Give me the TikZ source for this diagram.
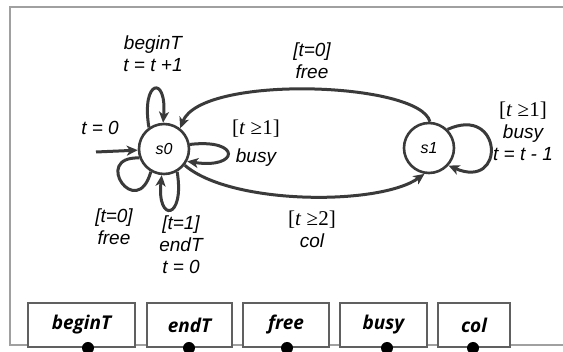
\documentclass[tikz,border=0pt]{standalone}
\usepackage{fontspec}
\setmainfont{Liberation Sans}
\newfontfamily\seriffont{Liberation Serif}
\newfontfamily\boxfont{Open Sans}
\usetikzlibrary{arrows.meta}
\definecolor{ink}{HTML}{3A3A3A}
\definecolor{framecol}{HTML}{A0A0A0}
\definecolor{boxline}{HTML}{606060}
\newcommand{\tgeq}[1]{{\seriffont\upshape\fontsize{21}{22}\selectfont[\textit{t} ≥#1]}}
\begin{document}
\begin{tikzpicture}[x=1pt,y=-1pt,
 state/.style={circle,draw=ink,line width=2.6pt,minimum size=50pt,inner sep=0pt,font=\fontsize{16}{16}\selectfont\itshape},
 arr/.style={draw=ink,line width=3pt,-{Stealth[length=11pt,width=10pt,inset=3pt]}},
 plain/.style={draw=ink,line width=3pt},
 lbl/.style={align=center,inner sep=0pt,font=\fontsize{19}{22}\selectfont\itshape,text=black},
 sigbox/.style={draw=boxline,line width=2.4pt,fill=white,minimum height=44pt,inner sep=0pt,font=\boxfont\fontsize{19}{19}\selectfont\bfseries\itshape},
 port/.style={circle,fill=black,minimum size=12pt,inner sep=0pt}
]
\useasboundingbox (0,0) rectangle (563,352);
\draw[framecol,line width=2.2pt] (575,7) -- (10,7) -- (10,345) -- (575,345);

\node[state] (s0) at (164,149) {s0};
\node[state] (s1) at (429,148) {s1};
\coordinate (init) at (96,152);

\draw[arr] (init) -- (s0);
\draw[arr] (s0.125) .. controls +(-8,-48) and +(4,-48) .. (s0.92);
\draw[plain] (s0.200) .. controls +(-48,-2) and +(-14,50) .. (s0.240);
\draw[arr] (s0.-60) .. controls +(8,48) and +(-5,48) .. (s0.-95);
\draw[arr] (s0.10) .. controls +(52,-6) and +(52,8) .. (s0.-28);
\draw[arr] (s1.88) .. controls +(-10,-40) and +(21,-54) .. (s0.52);
\draw[arr] (s0.-38) .. controls +(46,40) and +(-45,32) .. (s1.-100);
\draw[arr] (s1.45) .. controls +(55,-25) and +(58,25) .. (s1.-42);

\node[lbl] (lbegin) at (153,54) {beginT\\t = t +1};
\node[lbl] (linit) at (100,128) {t = 0};
\node[lbl] (lbusy0) at (256,143) {\tgeq{1}\\[6pt]busy};
\node[lbl] (lfree1) at (312,61) {[t=0]\\free};
\node[lbl] (lbusy1) at (523,131) {\tgeq{1}\\busy\\t = t - 1};
\node[lbl] (lfree0) at (114,227) {[t=0]\\free};
\node[lbl] (lendT) at (181,245) {[t=1]\\endT\\t = 0};
\node[lbl] (lcol) at (312,229) {\tgeq{2}\\col};

\node[sigbox,minimum width=107pt] (bbeginT) at (81.5,325) {beginT};
\node[sigbox,minimum width=85pt] (bendT) at (189.5,325) {endT};
\node[sigbox,minimum width=86pt] (bfree) at (286,325) {free};
\node[sigbox,minimum width=87pt] (bbusy) at (383.5,325) {busy};
\node[sigbox,minimum width=72pt] (bcol) at (474,325) {col};
\node[port] (pbeginT) at (88,348) {};
\node[port] (pendT) at (189,348) {};
\node[port] (pfree) at (287,348) {};
\node[port] (pbusy) at (387,348) {};
\node[port] (pcol) at (473,348) {};
\end{tikzpicture}
\end{document}
